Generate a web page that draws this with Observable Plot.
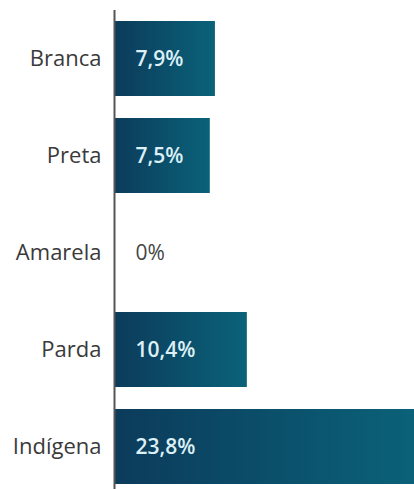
<!DOCTYPE html>
<html>
<head>
<meta charset="utf-8">
<script src="https://cdn.jsdelivr.net/npm/d3@7"></script>
<script src="https://cdn.jsdelivr.net/npm/@observablehq/plot@0.6"></script>
<style>
  html, body { margin: 0; padding: 0; background: #fff; }
  svg { display: block; }
</style>
</head>
<body>
<div id="chart"></div>
<script>
const categories = ["Branca", "Preta", "Amarela", "Parda", "Indígena"];
const values = [7.9, 7.5, 0, 10.4, 23.8];
const valueLabels = ["7,9%", "7,5%", "0%", "10,4%", "23,8%"];

const data = categories.map((c, i) => ({cat: c, value: values[i], label: valueLabels[i]}));

const gradientDefs = () => {
  const defs = d3.create("svg:defs");
  const g = defs.append("linearGradient")
    .attr("id", "barGrad")
    .attr("x1", "0%").attr("x2", "100%").attr("y1", "0%").attr("y2", "0%");
  g.append("stop").attr("offset", "0%").attr("stop-color", "#0c3b5b");
  g.append("stop").attr("offset", "100%").attr("stop-color", "#0a6279");
  return defs.node();
};

const chart = Plot.plot({
  width: 414,
  height: 489,
  marginLeft: 114,
  marginRight: 0,
  marginTop: 10,
  marginBottom: 0,
  style: {fontFamily: "'Open Sans', sans-serif", background: "#fff", overflow: "hidden"},
  x: {domain: [0, 23.8], range: [114, 418], axis: null},
  y: {domain: categories, range: [20, 485], paddingInner: 0.23, paddingOuter: 0, label: null},
  marks: [
    gradientDefs,
    Plot.barX(data, {x: "value", y: "cat", fill: "url(#barGrad)"}),
    Plot.ruleX([0], {stroke: "#555", strokeWidth: 2}),
    Plot.axisY({tickSize: 0, tickPadding: 13, fontSize: 22, label: null, fill: "#3a3a3a"}),
    Plot.text(data.filter(d => d.value > 0), {
      x: 0, y: "cat", text: "label", dx: 21, textAnchor: "start",
      fontSize: 21, fontWeight: 600, fill: "#dcf0f6"
    }),
    Plot.text(data.filter(d => d.value === 0), {
      x: 0, y: "cat", text: "label", dx: 21, textAnchor: "start",
      fontSize: 21, fontWeight: 400, fill: "#444"
    })
  ]
});
document.getElementById("chart").append(chart);
</script>
</body>
</html>
